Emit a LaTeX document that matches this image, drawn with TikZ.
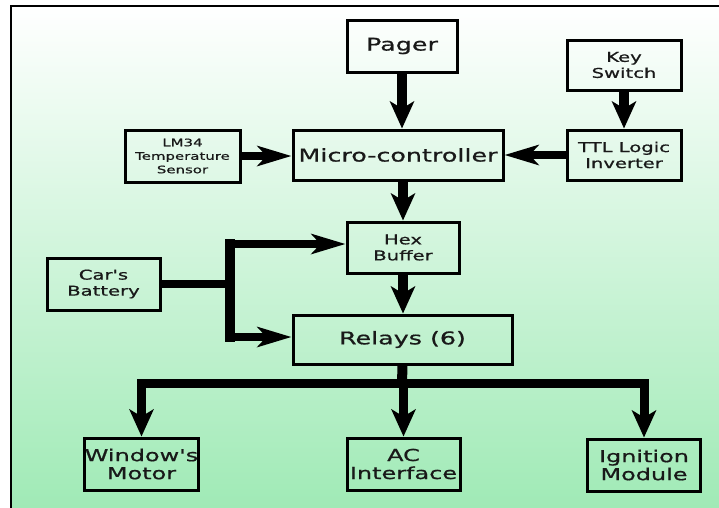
\documentclass[tikz,border=0pt]{standalone}
\usepackage{fontspec}
\newfontfamily\diafont[FakeStretch=1.45, FakeBold=0.8]{DejaVu Sans}
\usetikzlibrary{arrows.meta}
\definecolor{bggreen}{RGB}{160,234,182}
\tikzset{
  box/.style={draw=black, line width=3pt, inner sep=0pt, align=center, text=black!90},
  bigtxt/.style={font=\diafont\fontsize{17.5}{20}\selectfont},
  midtxt/.style={font=\diafont\fontsize{13.5}{16}\selectfont},
  smalltxt/.style={font=\diafont\fontsize{10.3}{13.5}\selectfont},
  bottxt/.style={font=\diafont\fontsize{16.5}{18}\selectfont},
  varr/.style={line width=10pt, -{Stealth[length=27pt, width=24pt, inset=7pt]}},
  harr/.style={line width=8pt, -{Stealth[length=34pt, width=20pt, inset=9pt]}},
  vline/.style={line width=10pt},
  hline/.style={line width=8pt},
  busarr/.style={line width=9pt, -{Stealth[length=27pt, width=24pt, inset=7pt]}},
}
\begin{document}
\begin{tikzpicture}[x=1pt,y=-1pt]
\useasboundingbox (0,0) rectangle (719,507);
\shade[top color=white, bottom color=bggreen] (11,6) rectangle (719,507);
\draw[line width=2pt] (11,510) -- (11,6) -- (722,6);

\node[box, bigtxt, minimum width=110pt, minimum height=52pt] (pager) at (402,46) {Pager};
\node[box, midtxt, minimum width=114pt, minimum height=50pt] (key) at (624,65) {Key\\Switch};
\node[box, midtxt, minimum width=114pt, minimum height=50pt] (ttl) at (624,155) {TTL Logic\\Inverter};
\node[box, bigtxt, minimum width=210pt, minimum height=50pt] (micro) at (398,155) {Micro-controller};
\node[box, smalltxt, minimum width=115pt, minimum height=52pt] (lm34) at (182.5,156) {LM34\\Temperature\\Sensor};
\node[box, midtxt, minimum width=112pt, minimum height=51pt] (hex) at (403,247.5) {Hex\\Buffer};
\node[box, midtxt, minimum width=113pt, minimum height=52pt] (batt) at (103.5,284) {Car's\\Battery};
\node[box, bigtxt, minimum width=219pt, minimum height=49pt] (relays) at (402.5,339.5) {Relays (6)};
\node[box, bottxt, minimum width=113pt, minimum height=52pt] (window) at (141.5,464) {Window's\\Motor};
\node[box, bottxt, minimum width=113pt, minimum height=52pt] (ac) at (403.5,464) {AC\\Interface};
\node[box, bottxt, minimum width=113pt, minimum height=52pt] (ign) at (644,465) {Ignition\\Module};

% arrows
\draw[varr] (pager.south) -- (pager.south |- micro.north);
\draw[varr] (key.south) -- (ttl.north);
\draw[harr] (lm34.east) -- (lm34.east -| micro.west);
\draw[harr] (ttl.west) -- (ttl.west -| micro.east);
\draw[varr] (hex.north |- micro.south) -- (hex.north);
\draw[varr] (hex.south) -- (hex.south |- relays.north);

% battery feed
\coordinate (bj) at (230,284);
\coordinate (bt) at (230,244);
\coordinate (bb) at (230,337);
\draw[hline] (batt.east) -- (bj);
\draw[vline, line cap=rect] (bt) -- (bb);
\draw[harr] (bt) -- (bt -| hex.west);
\draw[harr] (bb) -- (bb -| relays.west);

% output bus
\coordinate (bus) at (402,383);
\draw[vline] (relays.south) -- (bus);
\draw[busarr] (bus) -| (window.north);
\draw[busarr] (bus) -| (ign.north);
\draw[busarr] (ac.north |- bus) -- (ac.north);
\end{tikzpicture}
\end{document}
